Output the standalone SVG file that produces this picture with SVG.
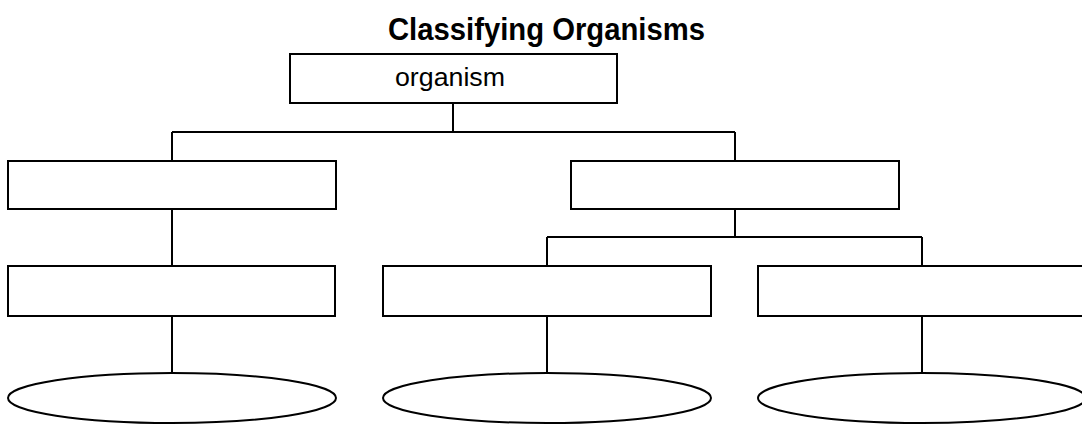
<svg xmlns="http://www.w3.org/2000/svg" width="1082" height="424" viewBox="0 0 1082 424">
  <style>
    .box { fill: #ffffff; stroke: #000000; stroke-width: 2; }
    .link { fill: none; stroke: #000000; stroke-width: 2; }
    .title { font-family: "Liberation Sans", Arial, sans-serif; font-size: 31px; font-weight: bold; fill: #000000; }
    .label { font-family: "Liberation Sans", Arial, sans-serif; font-size: 26px; fill: #000000; }
  </style>
  <rect width="1082" height="424" fill="#ffffff"/>
  <text class="title" x="546.5" y="40" text-anchor="middle" textLength="317" lengthAdjust="spacingAndGlyphs">Classifying Organisms</text>

  <!-- tree connectors -->
  <g id="connectors">
    <path class="link" d="M453 103 V132 M172 132 H735 M172 132 V161 M735 132 V161"/>
    <path class="link" d="M172 209 V266 M172 316 V373"/>
    <path class="link" d="M735 209 V237 M547 237 H922 M547 237 V266 M922 237 V266"/>
    <path class="link" d="M547 316 V373 M922 316 V373"/>
  </g>

  <g id="node-organism">
    <rect class="box" x="290" y="54" width="327" height="49"/>
    <text class="label" x="450" y="86" text-anchor="middle" textLength="110" lengthAdjust="spacingAndGlyphs">organism</text>
  </g>
  <g id="node-left">
    <rect class="box" x="8" y="161" width="328" height="48"/>
  </g>
  <g id="node-right">
    <rect class="box" x="571" y="161" width="328" height="48"/>
  </g>
  <g id="node-left-sub">
    <rect class="box" x="8" y="266" width="327" height="50"/>
  </g>
  <g id="node-mid-sub">
    <rect class="box" x="383" y="266" width="328" height="50"/>
  </g>
  <g id="node-right-sub">
    <rect class="box" x="758" y="266" width="328" height="50"/>
  </g>
  <g id="oval-left">
    <ellipse class="box" cx="172" cy="398" rx="164" ry="25"/>
  </g>
  <g id="oval-mid">
    <ellipse class="box" cx="547" cy="398" rx="164" ry="25"/>
  </g>
  <g id="oval-right">
    <ellipse class="box" cx="922" cy="398" rx="164" ry="25"/>
  </g>
</svg>
